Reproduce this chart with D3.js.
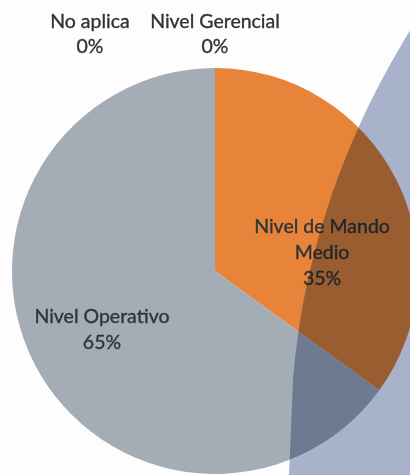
<!DOCTYPE html>
<html>
<head>
<meta charset="utf-8">
<script src="https://cdn.jsdelivr.net/npm/d3@7"></script>
<style>
  body { margin: 0; background: #fdfdfd; }
  text { font-family: Lato, "Open Sans", sans-serif; fill: #2f3537; stroke: #2f3537; stroke-width: 0.35px; }
</style>
</head>
<body>
<div id="chart"></div>
<script>
// slices in drawing order, clockwise from 12 o'clock
var categories = ['Nivel de Mando Medio', 'Nivel Operativo', 'No aplica', 'Nivel Gerencial'];
var values = [35, 65, 0, 0];
var colors = ['#e8843a', '#a4adb6', '#5b9bd5', '#ffc000'];

var width = 410, height = 475;
var cx = 215, cy = 271, radius = 203;

var svg = d3.select('#chart').append('svg')
  .attr('width', width)
  .attr('height', height);

svg.append('rect')
  .attr('width', width)
  .attr('height', height)
  .attr('fill', '#fdfdfd');

var data = categories.map(function(c, i) { return {name: c, value: values[i], color: colors[i]}; });
var total = d3.sum(values);

var pie = d3.pie().sort(null).value(function(d) { return d.value; });
var arcs = pie(data);

var arc = d3.arc().innerRadius(0).outerRadius(radius);
var labelArc = d3.arc().innerRadius(radius * 0.625).outerRadius(radius * 0.625);

var g = svg.append('g').attr('transform', 'translate(' + cx + ',' + cy + ')');

g.selectAll('path')
  .data(arcs.filter(function(d) { return d.value > 0; }))
  .enter()
  .append('path')
  .attr('d', arc)
  .attr('fill', function(d) { return d.data.color; });

// the semi-transparent sheet lying over the right side of the photo
svg.append('path')
  .attr('d', 'M414,24 C360,110 305,230 293,380 L289,475 L412,475 Z')
  .attr('fill', '#a9b4cd')
  .style('mix-blend-mode', 'multiply');

var pct = function(v) { return Math.round(v / total * 100) + '%'; };
var lineH = 26;
var fs = 19.5;

// labels inside the big slices (best fit, like the spreadsheet does)
arcs.filter(function(d) { return d.value > 0; }).forEach(function(d, i) {
  var c = labelArc.centroid(d);
  var lines;
  if (d.data.name === 'Nivel de Mando Medio') {
    lines = ['Nivel de Mando', 'Medio', pct(d.value)];
    c = [c[0] - 6, c[1] + 39];
  } else {
    lines = [d.data.name, pct(d.value)];
  }
  var t = g.append('text')
    .attr('text-anchor', 'middle')
    .attr('font-size', fs);
  lines.forEach(function(l, j) {
    t.append('tspan')
      .attr('x', c[0])
      .attr('y', c[1] + (j - (lines.length - 1) / 2) * lineH + 7)
      .text(l);
  });
});

// zero slices sit at the top, stacked leftwards
var zeroX = 0;
arcs.filter(function(d) { return d.value === 0; }).reverse().forEach(function(d, i) {
  var t = g.append('text')
    .attr('text-anchor', 'middle')
    .attr('font-size', fs);
  t.append('tspan').attr('x', zeroX).attr('y', -radius - 40).text(d.data.name);
  t.append('tspan').attr('x', zeroX).attr('y', -radius - 15).text(pct(d.value));
  zeroX -= 125;
});
</script>
</body>
</html>
